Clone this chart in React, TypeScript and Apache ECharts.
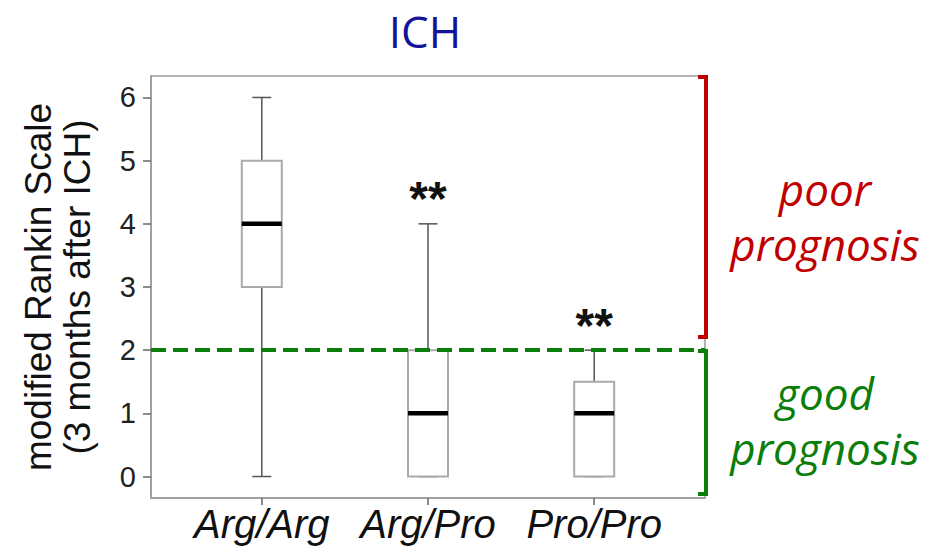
import React, { useEffect, useRef } from "react";
import * as echarts from "echarts";

const categories = ["Arg/Arg", "Arg/Pro", "Pro/Pro"];
// [min, Q1, median, Q3, max]
const boxValues = [
  [0, 3, 4, 5, 6],
  [0, 0, 1, 2, 4],
  [0, 0, 1, 1.5, 2],
];
const significance = ["", "**", "**"];
const yTicks = [0, 1, 2, 3, 4, 5, 6];
const threshold = 2;

const GRID = { left: 151, top: 76, right: 243, bottom: 57 };

export default function App() {
  const ref = useRef<HTMLDivElement>(null);
  useEffect(() => {
    if (!ref.current) return;
    const chart = echarts.init(ref.current, null, { renderer: "svg" });
    const data = boxValues.map((b, i) => [i, ...b]);
    const option: any = {
      animation: false,
      backgroundColor: "#ffffff",
      title: {
        text: "ICH",
        left: 420,
        top: 4,
        textAlign: "center",
        textStyle: {
          fontFamily: "Open Sans",
          fontSize: 44,
          fontWeight: "normal",
          color: "#14149a",
        },
      },
      grid: {
        ...GRID,
        show: true,
        borderColor: "#9a9a9a",
        borderWidth: 1.5,
        backgroundColor: "transparent",
      },
      xAxis: {
        type: "value",
        min: -2 / 3,
        max: 8 / 3,
        axisLine: { show: true, onZero: false, lineStyle: { color: "#9a9a9a", width: 1.5 } },
        axisTick: {
          show: true,
          customValues: [0, 1, 2],
          length: 7,
          lineStyle: { color: "#666", width: 1.5 },
        },
        axisLabel: {
          customValues: [0, 1, 2],
          formatter: (v: number) => categories[Math.round(v)] ?? "",
          fontFamily: "Liberation Sans",
          fontStyle: "italic",
          fontSize: 40,
          color: "#111",
          margin: 6,
        },
        splitLine: { show: false },
      },
      yAxis: {
        type: "value",
        min: -0.34,
        max: 6.34,
        name: "modified Rankin Scale\n(3 months after ICH)",
        nameLocation: "middle",
        nameRotate: 90,
        nameGap: 54,
        nameTextStyle: {
          fontFamily: "Liberation Sans",
          fontSize: 37,
          color: "#111",
          lineHeight: 39,
        },
        axisLine: { show: true, onZero: false, lineStyle: { color: "#9a9a9a", width: 1.5 } },
        axisTick: {
          show: true,
          customValues: yTicks,
          length: 8,
          lineStyle: { color: "#666", width: 1.5 },
        },
        axisLabel: {
          customValues: yTicks,
          fontFamily: "Liberation Sans",
          fontSize: 29,
          color: "#222",
          margin: 15,
        },
        splitLine: { show: false },
      },
      series: [
        {
          type: "custom",
          data,
          encode: { x: 0, y: [1, 2, 3, 4, 5] },
          renderItem: (params: any, api: any) => {
            const x = api.value(0);
            const vals = [1, 2, 3, 4, 5].map((k) => api.value(k));
            const [pMin, pQ1, pMed, pQ3, pMax] = vals.map((v) => api.coord([x, v]));
            const cx = pMin[0];
            const boxW = 40;
            const capW = 19;
            const whisker = { stroke: "#555", lineWidth: 1.5 };
            const children: any[] = [
              { type: "line", shape: { x1: cx, y1: pMin[1], x2: cx, y2: pMax[1] }, style: whisker },
              { type: "line", shape: { x1: cx - capW / 2, y1: pMax[1], x2: cx + capW / 2, y2: pMax[1] }, style: whisker },
              { type: "line", shape: { x1: cx - capW / 2, y1: pMin[1], x2: cx + capW / 2, y2: pMin[1] }, style: whisker },
              {
                type: "rect",
                shape: { x: cx - boxW / 2, y: pQ3[1], width: boxW, height: pQ1[1] - pQ3[1] },
                style: { fill: "#fff", stroke: "#aaaaaa", lineWidth: 2 },
              },
              {
                type: "line",
                shape: { x1: cx - boxW / 2, y1: pMed[1], x2: cx + boxW / 2, y2: pMed[1] },
                style: { stroke: "#000", lineWidth: 4.5 },
              },
            ];
            const sig = significance[params.dataIndex];
            if (sig) {
              children.push({
                type: "text",
                x: cx,
                y: pMax[1] - 1,
                style: {
                  text: sig,
                  fontFamily: "Liberation Sans",
                  fontSize: 48,
                  fontWeight: "bold",
                  fill: "#111",
                  textAlign: "center",
                  textVerticalAlign: "bottom",
                },
              });
            }
            return { type: "group", children };
          },
          markLine: {
            silent: true,
            symbol: "none",
            label: { show: false },
            lineStyle: { color: "#0a7d0a", width: 4, type: [15, 7] },
            data: [{ yAxis: threshold }],
          },
          z: 3,
        },
      ],
      graphic: [
        {
          type: "polyline",
          shape: { points: [[698, 77], [706, 77], [706, 337], [698, 337]] },
          style: { stroke: "#c00000", lineWidth: 4, fill: "none" },
          z: 10,
        },
        {
          type: "polyline",
          shape: { points: [[698, 351], [706, 351], [706, 494], [698, 494]] },
          style: { stroke: "#0a7d0a", lineWidth: 4, fill: "none" },
          z: 10,
        },
        {
          type: "text",
          x: 825,
          y: 216,
          style: {
            text: "poor\nprognosis",
            fontFamily: "Open Sans",
            fontStyle: "italic",
            fontSize: 44,
            lineHeight: 55,
            fill: "#c00000",
            textAlign: "center",
            textVerticalAlign: "middle",
          },
        },
        {
          type: "text",
          x: 825,
          y: 420,
          style: {
            text: "good\nprognosis",
            fontFamily: "Open Sans",
            fontStyle: "italic",
            fontSize: 44,
            lineHeight: 55,
            fill: "#0a7d0a",
            textAlign: "center",
            textVerticalAlign: "middle",
          },
        },
      ],
    };
    chart.setOption(option);
    return () => chart.dispose();
  }, []);
  return (
    <div
      ref={ref}
      style={{ position: "fixed", left: 0, top: 0, width: 948, height: 555, background: "#fff" }}
    />
  );
}
